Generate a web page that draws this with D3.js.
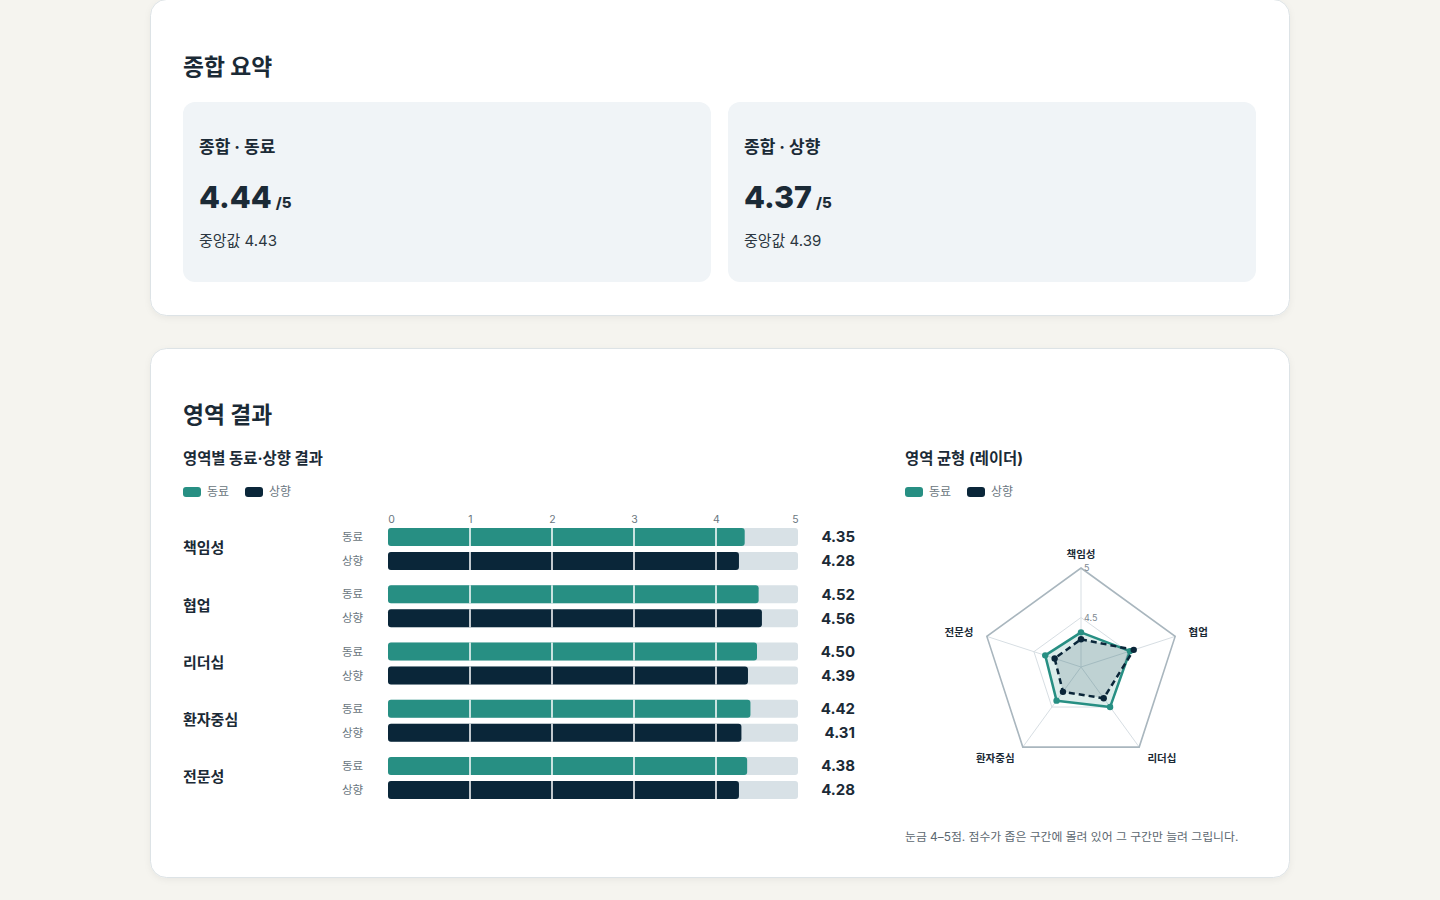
<!DOCTYPE html>
<html lang="ko">
<head>
<meta charset="utf-8">
<script src="https://cdn.jsdelivr.net/npm/d3@7/dist/d3.min.js"></script>
<style>
  html, body { margin: 0; padding: 0; background: #f5f4ef; }
  svg { display: block; }
  text { font-family: Inter, "Noto Sans CJK KR", "Noto Sans", sans-serif; }
</style>
</head>
<body>
<svg id="page" width="1440" height="900"></svg>
<script>
// ---------- data ----------
const categories = ["책임성", "협업", "리더십", "환자중심", "전문성"];
const seriesNames = ["동료", "상향"];
const peerValues = [4.35, 4.52, 4.50, 4.42, 4.38];
const upwardValues = [4.28, 4.56, 4.39, 4.31, 4.28];
const barTicks = [0, 1, 2, 3, 4, 5];
const radarTicks = [4.5, 5];
const summaryTitles = ["종합 · 동료", "종합 · 상향"];
const summaryScores = [4.44, 4.37];
const summaryMedians = [4.43, 4.39];

const TEAL = "#278f83", NAVY = "#0a2639", INK = "#1b2a36", GREY = "#6a7680";

const svg = d3.select("#page");
const defs = svg.append("defs");
const f = defs.append("filter").attr("id", "shadow").attr("x", "-5%").attr("y", "-5%").attr("width", "110%").attr("height", "115%");
f.append("feDropShadow").attr("dx", 0).attr("dy", 2).attr("stdDeviation", 3).attr("flood-color", "#000").attr("flood-opacity", 0.05);

// ---------- cards ----------
function card(y, h) {
  svg.append("rect").attr("x", 150.5).attr("y", y).attr("width", 1139).attr("height", h)
    .attr("rx", 16).attr("fill", "#fff").attr("stroke", "#dde3e6").attr("stroke-width", 1)
    .attr("filter", "url(#shadow)");
}
card(-0.5, 316);
card(348.5, 529);

// ---------- summary ----------
svg.append("text").attr("x", 183).attr("y", 75).attr("font-size", 22.8).attr("font-weight", 700)
  .attr("fill", INK).text("종합 요약");

const sumX = d3.scaleBand().domain(d3.range(summaryTitles.length)).range([183, 1256]).paddingInner(0.0312);
summaryTitles.forEach((t, i) => {
  const x0 = sumX(i);
  svg.append("rect").attr("x", x0).attr("y", 102).attr("width", sumX.bandwidth()).attr("height", 180)
    .attr("rx", 12).attr("fill", "#f0f4f7");
  svg.append("text").attr("x", x0 + 16).attr("y", 153).attr("font-size", 17).attr("font-weight", 700)
    .attr("fill", INK).text(t);
  const tx = svg.append("text").attr("x", x0 + 16).attr("y", 208).attr("fill", INK).attr("font-weight", 800);
  tx.append("tspan").attr("font-size", 30.5).text(summaryScores[i].toFixed(2));
  tx.append("tspan").attr("font-size", 15).attr("dx", 4).text("/5");
  svg.append("text").attr("x", x0 + 16).attr("y", 246).attr("font-size", 15).attr("fill", "#2b3640")
    .text("중앙값 " + summaryMedians[i].toFixed(2));
});

// ---------- section 2 ----------
svg.append("text").attr("x", 183).attr("y", 423).attr("font-size", 22.8).attr("font-weight", 700)
  .attr("fill", INK).text("영역 결과");

function legend(x, y) {
  const g = svg.append("g").attr("transform", `translate(${x},${y})`);
  let cx = 0;
  seriesNames.forEach((s, i) => {
    g.append("rect").attr("x", cx).attr("y", -5).attr("width", 18).attr("height", 10).attr("rx", 3)
      .attr("fill", i === 0 ? TEAL : NAVY);
    g.append("text").attr("x", cx + 24).attr("y", 0).attr("dy", "0.35em").attr("font-size", 12)
      .attr("fill", GREY).text(s);
    cx += 62;
  });
}

// Bar chart
svg.append("text").attr("x", 183).attr("y", 464).attr("font-size", 15.4).attr("font-weight", 700)
  .attr("fill", INK).text("영역별 동료·상향 결과");
legend(183, 492);

const x = d3.scaleLinear().domain([0, 5]).range([388, 798]);
const y0 = d3.scaleBand().domain(categories).range([524, 524 + 57.25 * categories.length]);
const y1 = d3.scaleBand().domain(seriesNames).range([4, 46]).paddingInner(0.25);

const axis = d3.axisTop(x).tickValues(barTicks).tickSize(0).tickPadding(0).tickFormat(d3.format("d"));
const axG = svg.append("g").attr("transform", "translate(0,523)").call(axis);
axG.select(".domain").remove();
axG.selectAll("text").attr("font-size", 10.5).attr("fill", GREY).attr("font-family", "Inter, sans-serif")
  .attr("dx", (d, i) => i === 0 ? 3 : (i === barTicks.length - 1 ? -3 : 0));

const rows = [];
categories.forEach((c, i) => {
  rows.push({ cat: c, s: seriesNames[0], v: peerValues[i], color: TEAL });
  rows.push({ cat: c, s: seriesNames[1], v: upwardValues[i], color: NAVY });
});

const bars = svg.append("g");
bars.selectAll("rect.track").data(rows).join("rect").attr("class", "track")
  .attr("x", x(0)).attr("width", x(5) - x(0))
  .attr("y", d => y0(d.cat) + y1(d.s)).attr("height", y1.bandwidth())
  .attr("rx", 3).attr("fill", "#d8e1e6");
bars.selectAll("rect.bar").data(rows).join("rect").attr("class", "bar")
  .attr("x", x(0)).attr("width", d => x(d.v) - x(0))
  .attr("y", d => y0(d.cat) + y1(d.s)).attr("height", y1.bandwidth())
  .attr("rx", 3).attr("fill", d => d.color);
// white grid lines over bars
bars.selectAll("g.grid").data(rows).join("g").each(function (d) {
  d3.select(this).selectAll("line").data(barTicks.filter(t => t > 0 && t < 5)).join("line")
    .attr("x1", t => x(t)).attr("x2", t => x(t))
    .attr("y1", y0(d.cat) + y1(d.s)).attr("y2", y0(d.cat) + y1(d.s) + y1.bandwidth())
    .attr("stroke", "#fff").attr("stroke-width", 1.5);
});
bars.selectAll("text.sub").data(rows).join("text").attr("class", "sub")
  .attr("x", 342).attr("y", d => y0(d.cat) + y1(d.s) + y1.bandwidth() / 2).attr("dy", "0.35em")
  .attr("font-size", 11.5).attr("fill", GREY).text(d => d.s);
bars.selectAll("text.val").data(rows).join("text").attr("class", "val")
  .attr("x", 855).attr("text-anchor", "end")
  .attr("y", d => y0(d.cat) + y1(d.s) + y1.bandwidth() / 2).attr("dy", "0.36em")
  .attr("font-size", 15).attr("font-weight", 700).attr("fill", INK).text(d => d.v.toFixed(2));
bars.selectAll("text.cat").data(categories).join("text").attr("class", "cat")
  .attr("x", 183).attr("y", d => y0(d) + 24).attr("dy", "0.35em")
  .attr("font-size", 15).attr("font-weight", 700).attr("fill", INK).text(d => d);

// Radar chart
svg.append("text").attr("x", 905).attr("y", 464).attr("font-size", 15.4).attr("font-weight", 700)
  .attr("fill", INK).text("영역 균형 (레이더)");
legend(905, 492);

const cx = 1081, cy = 667;
const r = d3.scaleLinear().domain([4, 5]).range([0, 99]);
const ang = d3.scaleLinear().domain([0, categories.length]).range([0, 2 * Math.PI]);
const pt = (i, v) => [cx + r(v) * Math.sin(ang(i)), cy - r(v) * Math.cos(ang(i))];
const rg = svg.append("g");
const ring = v => d3.line()(categories.map((c, i) => pt(i, v))) + "Z";

categories.forEach((c, i) => {
  const [px, py] = pt(i, 5);
  rg.append("line").attr("x1", cx).attr("y1", cy).attr("x2", px).attr("y2", py)
    .attr("stroke", "#d7dee3").attr("stroke-width", 1);
});
radarTicks.forEach(t => {
  rg.append("path").attr("d", ring(t)).attr("fill", "none")
    .attr("stroke", t === 5 ? "#a9b6be" : "#d7dee3").attr("stroke-width", t === 5 ? 1.6 : 1);
  rg.append("text").attr("x", cx + 3).attr("y", cy - r(t)).attr("dy", "0.35em")
    .attr("font-size", 9).attr("fill", "#7d8890").text(t);
});

const sets = [
  { vals: peerValues, color: TEAL, fill: TEAL, fo: 0.16, dash: null },
  { vals: upwardValues, color: NAVY, fill: "#3d5a6a", fo: 0.18, dash: "6,4" }
];
sets.forEach(s => {
  const d = d3.line()(s.vals.map((v, i) => pt(i, v))) + "Z";
  rg.append("path").attr("d", d).attr("fill", s.fill).attr("fill-opacity", s.fo)
    .attr("stroke", s.color).attr("stroke-width", 2.5).attr("stroke-linejoin", "round")
    .attr("stroke-dasharray", s.dash);
});
sets.forEach(s => {
  rg.selectAll(null).data(s.vals).join("circle")
    .attr("cx", (v, i) => pt(i, v)[0]).attr("cy", (v, i) => pt(i, v)[1])
    .attr("r", 3.2).attr("fill", s.color);
});
categories.forEach((c, i) => {
  const a = ang(i), R = 113;
  const sx = Math.sin(a);
  rg.append("text").attr("x", cx + R * sx).attr("y", cy - R * Math.cos(a)).attr("dy", "0.35em")
    .attr("text-anchor", sx > 0.1 ? "start" : (sx < -0.1 ? "end" : "middle"))
    .attr("font-size", 10.5).attr("font-weight", 700).attr("fill", INK).text(c);
});

svg.append("text").attr("x", 905).attr("y", 837).attr("dy", "0.35em").attr("font-size", 11.85)
  .attr("fill", "#5c6770").text("눈금 4–5점. 점수가 좁은 구간에 몰려 있어 그 구간만 늘려 그립니다.");
</script>
</body>
</html>
